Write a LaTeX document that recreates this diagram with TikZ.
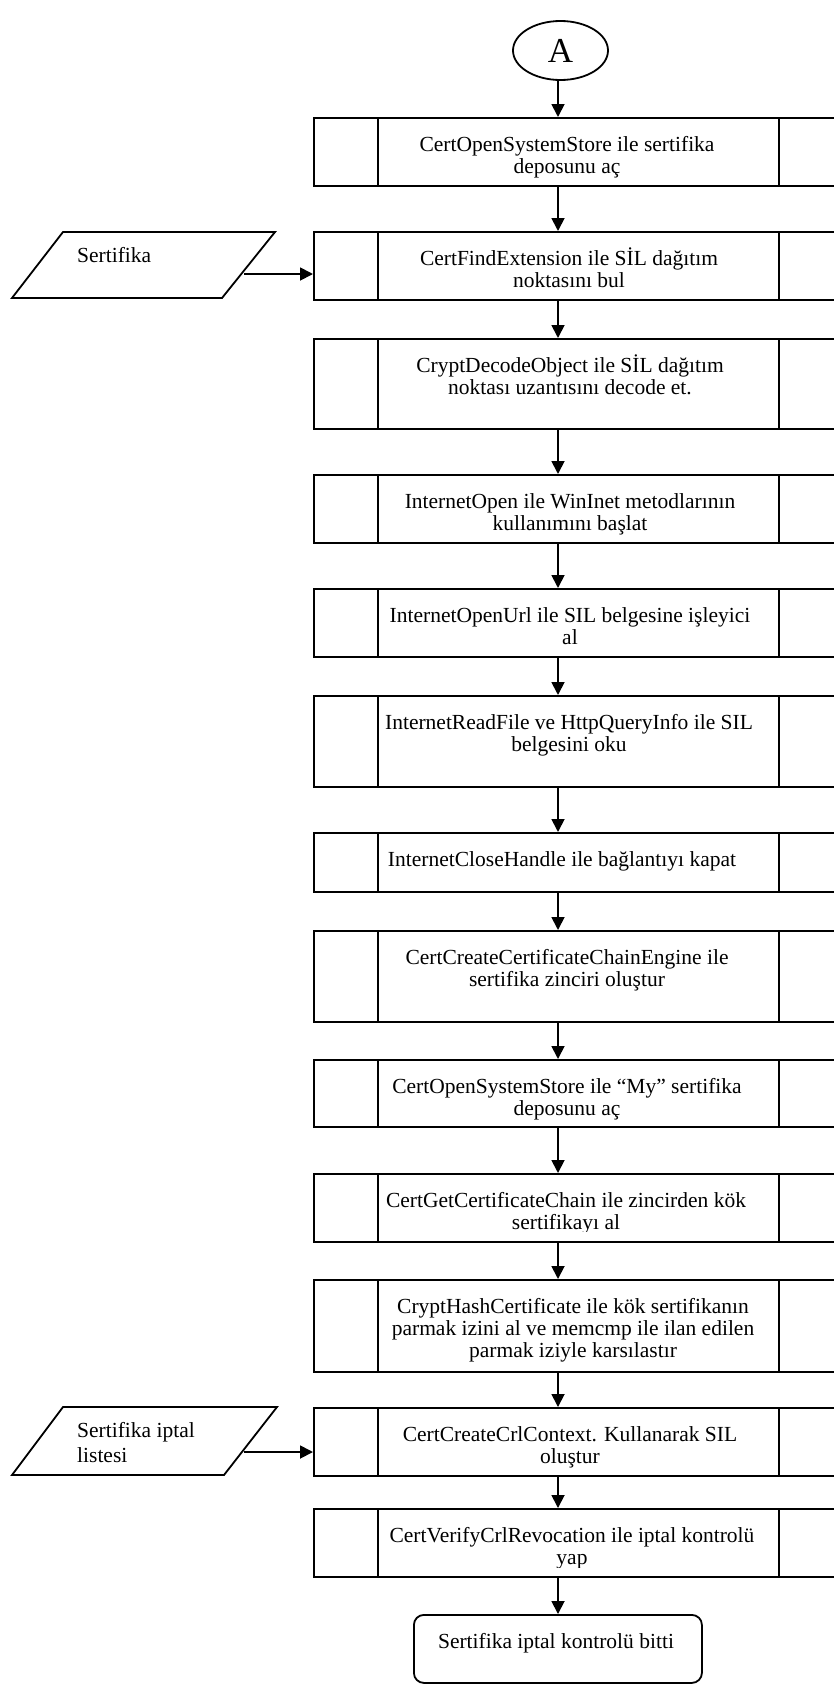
\documentclass[tikz,border=0pt]{standalone}
\usepackage{fontspec}
\setmainfont{Liberation Serif}
\usetikzlibrary{arrows.meta,shapes.geometric}

\tikzset{
  frame/.style={draw=black, line width=1.8pt},
  procbox/.style={frame, rectangle, minimum width=547pt, inner sep=0pt},
  steptext/.style={inner sep=0pt, align=center, font=\fontsize{21.5}{22.3}\selectfont},
  labeltext/.style={inner sep=0pt, align=left, font=\fontsize{21.5}{24.5}\selectfont},
  arr/.style={line width=1.8pt, -{Triangle[length=13pt,width=13pt]}},
  connector/.style={frame, ellipse, minimum width=95pt, minimum height=59pt, inner sep=0pt,
                    font=\fontsize{35}{38}\selectfont},
  terminal/.style={frame, rectangle, rounded corners=10pt, minimum width=288pt,
                   minimum height=68pt, inner sep=0pt},
}

% procedure box: name, top, bottom, text centre x, lowest visible text y, text
\newcommand{\procstep}[6]{%
  \node[procbox, minimum height={#3-#2}, anchor=north west] (#1) at (313,#2) {};
  \draw[frame] ([xshift=65pt]#1.north west) -- ([xshift=65pt]#1.south west);
  \draw[frame] ([xshift=466pt]#1.north west) -- ([xshift=466pt]#1.south west);
  \begin{scope}
    \clip (379,#2) rectangle (778,#5);
    \node[steptext, anchor=north] (#1-t) at (#4,#2+14) {\rule{0pt}{20pt}#6};
  \end{scope}
}

\begin{document}
\begin{tikzpicture}[x=1pt, y=-1pt]
  \useasboundingbox (0,0) rectangle (834,1684);
  \clip (0,0) rectangle (834,1684);

  % vertical flow axis
  \coordinate (ax) at (558,0);

  % off-page connector
  \node[connector] (A) at (560.5,50.5) {A};

  % process steps
  \procstep{b1}{117}{185}{567}{184}{CertOpenSystemStore ile sertifika\\deposunu aç}
  \procstep{b2}{231}{299}{569}{298}{CertFindExtension ile SİL dağıtım\\noktasını bul}
  \procstep{b3}{338}{428}{570}{427}{CryptDecodeObject ile SİL dağıtım\\noktası uzantısını decode et.}
  \procstep{b4}{474}{542}{570}{541}{InternetOpen ile WinInet metodlarının\\kullanımını başlat}
  \procstep{b5}{588}{656}{570}{655}{InternetOpenUrl ile SIL belgesine işleyici\\al}
  \procstep{b6}{695}{786}{569}{785}{InternetReadFile ve HttpQueryInfo ile SIL\\belgesini oku}
  \procstep{b7}{832}{891}{562}{890}{InternetCloseHandle ile bağlantıyı kapat}
  \procstep{b8}{930}{1021}{567}{1020}{CertCreateCertificateChainEngine ile\\sertifika zinciri oluştur}
  \procstep{b9}{1059}{1126}{567}{1125}{CertOpenSystemStore ile “My” sertifika\\deposunu aç}
  \procstep{b10}{1173}{1241}{566}{1231}{CertGetCertificateChain ile zincirden kök\\sertifikayı al}
  \procstep{b11}{1279}{1371}{573}{1361}{CryptHashCertificate ile kök sertifikanın\\parmak izini al ve memcmp ile ilan edilen\\parmak iziyle karsılastır}
  \procstep{b12}{1407}{1475}{570}{1474}{CertCreateCrlContext. Kullanarak SIL\\oluştur}
  \procstep{b13}{1508}{1576}{572}{1567}{CertVerifyCrlRevocation ile iptal kontrolü\\yap}

  % end terminal
  \node[terminal, anchor=north west] (end) at (413,1614) {};
  \node[steptext, anchor=base] (end-t) at (556,1648) {Sertifika iptal kontrolü bitti};

  % input data
  \draw[frame] (12,298) -- (63,232) -- (275,232) -- (222,298) -- cycle;
  \node[labeltext, anchor=base west] (in1) at (77,262) {Sertifika};
  \coordinate (in1out) at (244,274);

  \draw[frame] (12,1475) -- (63,1407) -- (277,1407) -- (224,1475) -- cycle;
  \node[labeltext, anchor=base west] (in2) at (77,1462) {Sertifika iptal\\listesi};
  \coordinate (in2out) at (244,1452);

  % main flow
  \draw[arr] (A.south -| ax) -- (b1.north -| ax);
  \foreach \p/\n in {b1/b2, b2/b3, b3/b4, b4/b5, b5/b6, b6/b7, b7/b8,
                     b8/b9, b9/b10, b10/b11, b11/b12, b12/b13}
    \draw[arr] (\p.south -| ax) -- (\n.north -| ax);
  \draw[arr] (b13.south -| ax) -- (end.north -| ax);

  % data inputs
  \draw[arr] (in1out) -- (in1out -| b2.west);
  \draw[arr] (in2out) -- (in2out -| b12.west);
\end{tikzpicture}
\end{document}
